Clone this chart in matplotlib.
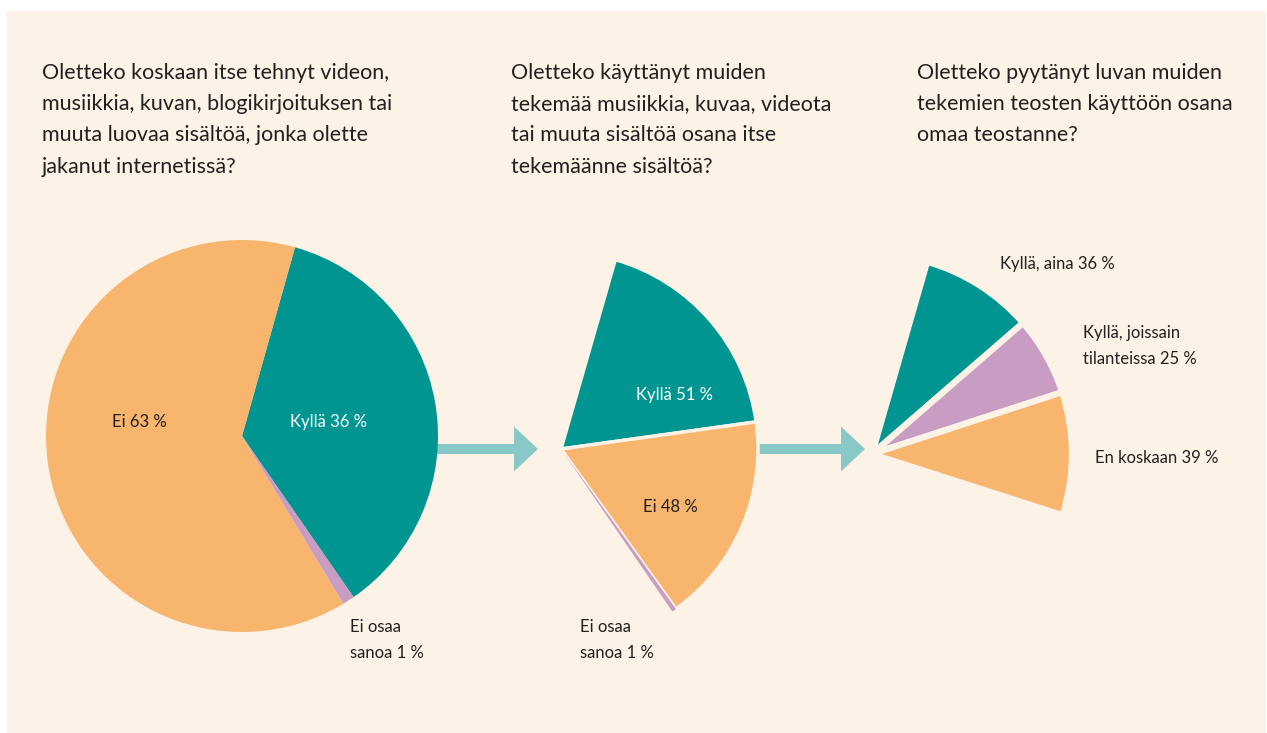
import matplotlib.pyplot as plt
from matplotlib.patches import Rectangle, FancyArrow

# dati
domande = [
    "Oletteko koskaan itse tehnyt videon,\nmusiikkia, kuvan, blogikirjoituksen tai\nmuuta luovaa sisältöä, jonka olette\njakanut internetissä?",
    "Oletteko käyttänyt muiden\ntekemää musiikkia, kuvaa, videota\ntai muuta sisältöä osana itse\ntekemäänne sisältöä?",
    "Oletteko pyytänyt luvan muiden\ntekemien teosten käyttöön osana\nomaa teostanne?",
]
etichette1 = ["Kyllä", "Ei osaa\nsanoa", "Ei"]
valori1 = [36, 1, 63]
etichette2 = ["Kyllä", "Ei", "Ei osaa\nsanoa"]
valori2 = [51, 48, 1]
etichette3 = ["Kyllä, aina", "Kyllä, joissain\ntilanteissa", "En koskaan"]
valori3 = [36, 25, 39]

TEAL = "#009590"
ORANGE = "#f7b56e"
PURPLE = "#c89cc3"
BG = "#fdf2e6"
ARROW = "#88c9c7"
TXT = "#231f20"

plt.rcParams["font.family"] = ["Lato", "DejaVu Sans"]

W, H = 1267, 733
fig = plt.figure(figsize=(W / 100, H / 100), dpi=100, facecolor="white")
ax = fig.add_axes([0, 0, 1, 1])

def Y(py):
    return H - py

ax.add_patch(Rectangle((7, 0), W - 8, H - 11, facecolor=BG, edgecolor="none", zorder=0))

# frecce
ax.add_patch(FancyArrow(420, Y(449), 118, 0, width=10, head_width=45, head_length=24,
                        length_includes_head=True, color=ARROW, lw=0, zorder=1))
ax.add_patch(FancyArrow(740, Y(449), 125, 0, width=10, head_width=45, head_length=24,
                        length_includes_head=True, color=ARROW, lw=0, zorder=1))

# torta 1
ax.pie(valori1, colors=[TEAL, PURPLE, ORANGE], startangle=74.3, counterclock=False,
       center=(242, Y(436)), radius=196, frame=True,
       wedgeprops=dict(linewidth=0, zorder=2))

# torta 2: quota "Kyllä" della prima torta
quota2 = valori1[0] / 100
fr2 = [v / 100 * quota2 for v in valori2]
spicchi2, _ = ax.pie(fr2, colors=[TEAL, ORANGE, PURPLE], startangle=74, counterclock=False,
                     normalize=False, explode=[0, 0.02, 0.05], center=(561, Y(449)),
                     radius=197, frame=True, wedgeprops=dict(linewidth=0, zorder=2))
for w in spicchi2[:2]:
    w.set_edgecolor(BG)
    w.set_linewidth(2.5)

# torta 3
quota3 = 0.255
fr3 = [v / 100 * quota3 for v in valori3]
ax.pie(fr3, colors=[TEAL, PURPLE, ORANGE], startangle=74, counterclock=False,
       normalize=False, center=(872, Y(454)), radius=200, frame=True,
       wedgeprops=dict(linewidth=4.5, edgecolor=BG, zorder=2))

# titoli
for x, t in zip([42, 511, 917], domande):
    ax.text(x, Y(63), t, fontsize=15.5, color=TXT, ha="left", va="top",
            linespacing=1.7, zorder=3)

fs = 12
# etichette torta 1
ax.text(139, Y(422), f"{etichette1[2]} {valori1[2]} %", fontsize=fs, color=TXT,
        ha="center", va="center", zorder=3)
ax.text(328, Y(422), f"{etichette1[0]} {valori1[0]} %", fontsize=fs, color="white",
        ha="center", va="center", zorder=3)
ax.text(350, Y(640), f"{etichette1[1]} {valori1[1]} %", fontsize=fs, color=TXT,
        ha="left", va="center", linespacing=1.7, zorder=3)

# etichette torta 2
ax.text(674, Y(395), f"{etichette2[0]} {valori2[0]} %", fontsize=fs, color="white",
        ha="center", va="center", zorder=3)
ax.text(670, Y(507), f"{etichette2[1]} {valori2[1]} %", fontsize=fs, color=TXT,
        ha="center", va="center", zorder=3)
ax.text(580, Y(640), f"{etichette2[2]} {valori2[2]} %", fontsize=fs, color=TXT,
        ha="left", va="center", linespacing=1.7, zorder=3)

# etichette torta 3
ax.text(1000, Y(264), f"{etichette3[0]} {valori3[0]} %", fontsize=fs, color=TXT,
        ha="left", va="center", zorder=3)
ax.text(1083, Y(346), f"{etichette3[1]} {valori3[1]} %", fontsize=fs, color=TXT,
        ha="left", va="center", linespacing=1.7, zorder=3)
ax.text(1095, Y(458), f"{etichette3[2]} {valori3[2]} %", fontsize=fs, color=TXT,
        ha="left", va="center", zorder=3)

ax.set_xlim(0, W)
ax.set_ylim(0, H)
ax.set_aspect("auto")
ax.axis("off")

fig.savefig("out.png", dpi=100, facecolor="white")
